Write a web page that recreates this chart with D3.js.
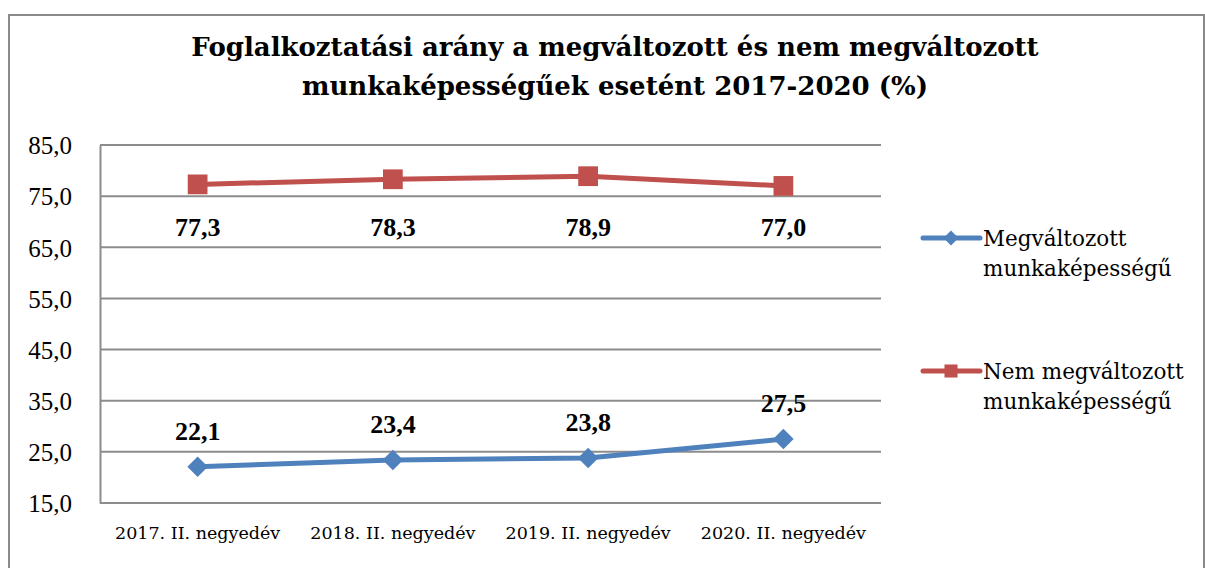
<!DOCTYPE html>
<html>
<head>
<meta charset="utf-8">
<script src="https://cdn.jsdelivr.net/npm/d3@7"></script>
<style>
  body { margin: 0; background: #fff; }
  .title { font-family: "DejaVu Serif", serif; font-weight: bold; font-size: 26px; fill: #000; }
  .tick text { font-family: "Liberation Serif", serif; fill: #000; }
  .x-axis .tick text { font-family: "DejaVu Serif", serif; font-size: 17.5px; }
  .y-axis .tick text { font-size: 25px; }
  .data-label { font-family: "Liberation Serif", serif; font-weight: bold; font-size: 26px; fill: #000; }
  .legend text { font-family: "DejaVu Serif", serif; font-size: 21.5px; fill: #000; }
</style>
</head>
<body>
<div id="chart"></div>
<script>
// chart data
const categories = ["2017. II. negyedév", "2018. II. negyedév", "2019. II. negyedév", "2020. II. negyedév"];
const changedValues = [22.1, 23.4, 23.8, 27.5];
const unchangedValues = [77.3, 78.3, 78.9, 77.0];
const seriesNames = [["Megváltozott", "munkaképességű"], ["Nem megváltozott", "munkaképességű"]];
const yTicks = [15, 25, 35, 45, 55, 65, 75, 85];
const titleLines = ["Foglalkoztatási arány a megváltozott és nem megváltozott",
                    "munkaképességűek esetént 2017-2020 (%)"];

const blue = "#4F81BD", red = "#C0504D", gridColor = "#8c8c8c";

let width = 1205, height = 568;
let margin = {top: 145, right: 324, bottom: 65, left: 100};

let svg = d3.select("#chart").append("svg")
    .attr("width", width)
    .attr("height", height);

// outer frame
svg.append("rect")
    .attr("x", 9).attr("y", 15)
    .attr("width", 1195).attr("height", 600)
    .attr("fill", "none")
    .attr("stroke", "#8a8a8a")
    .attr("stroke-width", 2);

// title
svg.append("text")
    .attr("class", "title")
    .attr("text-anchor", "middle")
    .selectAll("tspan")
    .data(titleLines)
    .enter()
    .append("tspan")
    .attr("x", 615)
    .attr("y", (d, i) => 56 + i * 39)
    .text(d => d);

let g = svg.append("g")
    .attr("transform", `translate(${margin.left}, 0)`);

let plotW = width - margin.left - margin.right;

let x = d3.scaleBand()
    .domain(categories)
    .range([0, plotW]);

let y = d3.scaleLinear()
    .domain([15, 85])
    .range([height - margin.bottom, margin.top]);

// gridlines
g.append("g")
    .selectAll("line")
    .data(yTicks)
    .enter()
    .append("line")
    .attr("x1", 0).attr("x2", plotW)
    .attr("y1", d => y(d)).attr("y2", d => y(d))
    .attr("stroke", gridColor)
    .attr("stroke-width", 2);

// y axis
let yAxis = d3.axisLeft(y)
    .tickValues(yTicks)
    .tickSize(0)
    .tickPadding(28)
    .tickFormat(d => d3.format(".1f")(d).replace(".", ","));

g.append("g")
    .attr("class", "y-axis")
    .call(yAxis)
    .call(s => s.select(".domain").attr("stroke", gridColor).attr("stroke-width", 2))
    .selectAll(".tick text").attr("dy", "0.35em");

// x axis
let xAxis = d3.axisBottom(x).tickSize(0).tickPadding(24);

g.append("g")
    .attr("class", "x-axis")
    .attr("transform", `translate(0, ${y(15)})`)
    .call(xAxis)
    .call(s => s.select(".domain").remove());

let cx = d => x(d) + x.bandwidth() / 2;

let line = d3.line()
    .x(d => cx(d.cat))
    .y(d => y(d.v));

let changedData = categories.map((c, i) => ({cat: c, v: changedValues[i]}));
let unchangedData = categories.map((c, i) => ({cat: c, v: unchangedValues[i]}));

// lines
g.append("path").datum(unchangedData)
    .attr("d", line).attr("fill", "none")
    .attr("stroke", red).attr("stroke-width", 5);

g.append("path").datum(changedData)
    .attr("d", line).attr("fill", "none")
    .attr("stroke", blue).attr("stroke-width", 5);

// markers (diamond = rotated square)
let square = d3.symbol().type(d3.symbolSquare).size(390);
let diamond = d3.symbol().type(d3.symbolSquare).size(210);

g.selectAll(".sq").data(unchangedData).enter()
    .append("path")
    .attr("class", "sq")
    .attr("d", square)
    .attr("transform", d => `translate(${cx(d.cat)}, ${y(d.v)})`)
    .attr("fill", red);

g.selectAll(".dm").data(changedData).enter()
    .append("path")
    .attr("class", "dm")
    .attr("d", diamond)
    .attr("transform", d => `translate(${cx(d.cat)}, ${y(d.v)}) rotate(45)`)
    .attr("fill", blue);

// labels
let fmt = v => d3.format(".1f")(v).replace(".", ",");
let redLabelY = y(d3.min(unchangedValues)) + 50;

g.selectAll(".lbl-red").data(unchangedData).enter()
    .append("text")
    .attr("class", "data-label")
    .attr("text-anchor", "middle")
    .attr("x", d => cx(d.cat))
    .attr("y", redLabelY)
    .text(d => fmt(d.v));

g.selectAll(".lbl-blue").data(changedData).enter()
    .append("text")
    .attr("class", "data-label")
    .attr("text-anchor", "middle")
    .attr("x", d => cx(d.cat))
    .attr("y", d => y(d.v) - 27)
    .text(d => fmt(d.v));

// legend
let legend = svg.append("g").attr("class", "legend");
let legendItems = [
    {name: seriesNames[0], color: blue, size: 110, rot: 45, y: 238},
    {name: seriesNames[1], color: red, size: 170, rot: 0, y: 371}
];

legendItems.forEach(item => {
    legend.append("line")
        .attr("x1", 923).attr("x2", 980)
        .attr("y1", item.y).attr("y2", item.y)
        .attr("stroke", item.color).attr("stroke-width", 5)
        .attr("stroke-linecap", "round");
    legend.append("path")
        .attr("d", d3.symbol().type(d3.symbolSquare).size(item.size))
        .attr("transform", `translate(951, ${item.y}) rotate(${item.rot})`)
        .attr("fill", item.color);
    legend.append("text")
        .selectAll("tspan")
        .data(item.name)
        .enter()
        .append("tspan")
        .attr("x", 983)
        .attr("y", (d, i) => item.y + 8 + i * 30)
        .text(d => d);
});
</script>
</body>
</html>
